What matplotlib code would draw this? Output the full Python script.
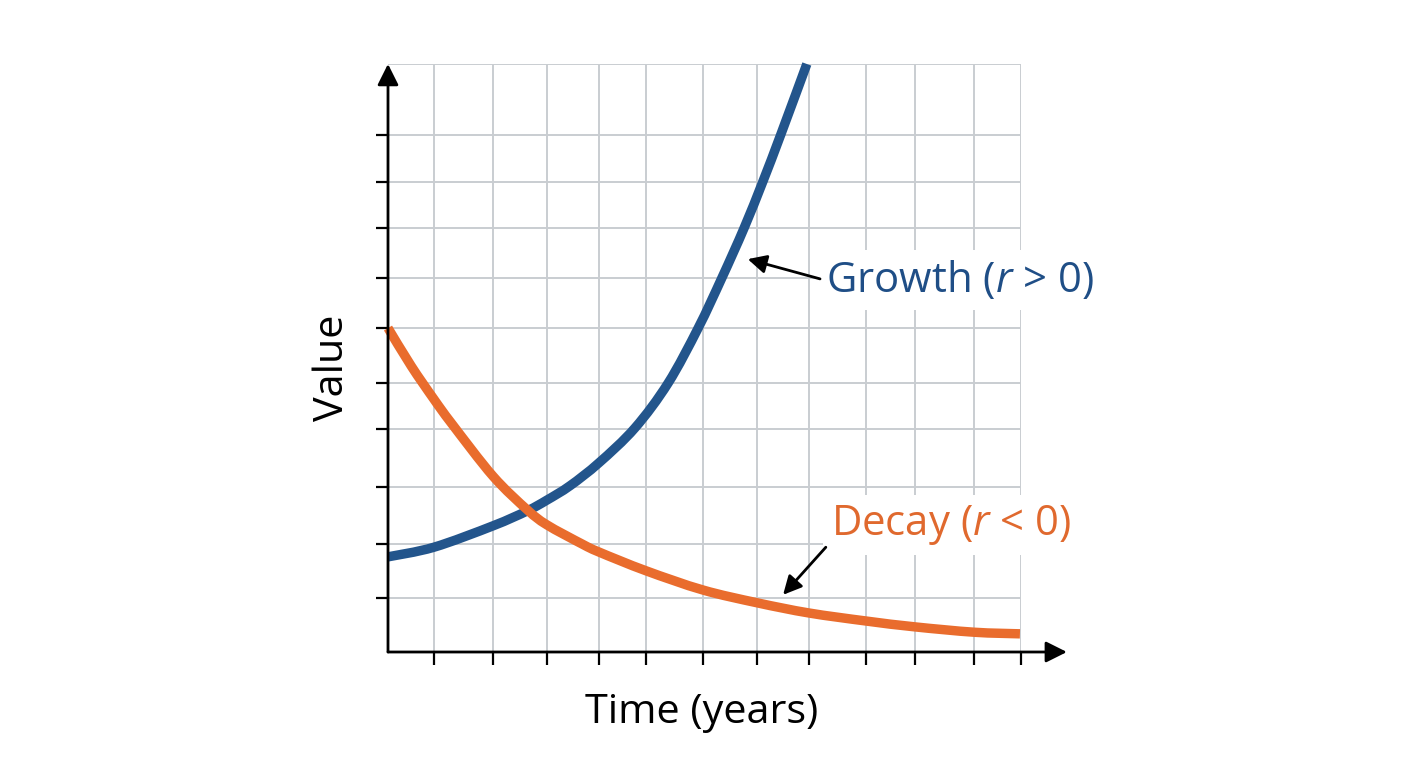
import matplotlib
matplotlib.use("Agg")
import matplotlib.pyplot as plt
from matplotlib.path import Path
from matplotlib.patches import PathPatch

plt.rcParams['font.family'] = ['Open Sans', 'DejaVu Sans']
plt.rcParams['mathtext.fontset'] = 'custom'
plt.rcParams['mathtext.rm'] = 'Open Sans'
plt.rcParams['mathtext.it'] = 'Open Sans:italic'

# Grid / tick positions (irregular spacing)
x_grid = [0.87, 1.99, 3.01, 4.0, 4.89, 5.97, 7.0, 7.98, 9.06, 9.99, 11.11, 12.0]
y_grid = [1.01, 2.02, 3.08, 4.17, 5.03, 6.06, 6.99, 7.93, 8.80, 9.68, 11.0]
y_ticks = y_grid[:-1]

# Growth curve (r > 0)
growth_t = [0.0, 0.87, 1.99, 2.64, 3.01, 3.45, 4.00, 4.68, 5.31, 5.88, 6.33,
            6.75, 7.11, 7.45, 7.94]
growth_v = [1.78, 1.96, 2.36, 2.64, 2.84, 3.11, 3.54, 4.19, 5.03, 6.06, 7.00,
            7.93, 8.81, 9.69, 11.0]

# Decay curve (r < 0)
decay_t = [0.0, 0.44, 0.87, 1.21, 1.99, 2.64, 3.01, 3.68, 4.00, 4.89, 5.97,
           7.00, 7.98, 9.06, 9.99, 11.11, 11.98]
decay_v = [6.06, 5.35, 4.73, 4.27, 3.29, 2.66, 2.38, 2.02, 1.87, 1.52, 1.16,
           0.92, 0.73, 0.58, 0.47, 0.37, 0.34]

blue = "#23558C"
orange = "#E96C2D"


def smooth_path(xs, ys):
    # cubic bezier segments through the read points (Catmull-Rom tangents)
    n = len(xs)
    verts = [(xs[0], ys[0])]
    codes = [Path.MOVETO]
    for i in range(n - 1):
        a = max(i - 1, 0)
        d = min(i + 2, n - 1)
        c1 = (xs[i] + (xs[i + 1] - xs[a]) / 6, ys[i] + (ys[i + 1] - ys[a]) / 6)
        c2 = (xs[i + 1] - (xs[d] - xs[i]) / 6, ys[i + 1] - (ys[d] - ys[i]) / 6)
        verts += [c1, c2, (xs[i + 1], ys[i + 1])]
        codes += [Path.CURVE4] * 3
    return Path(verts, codes)


fig = plt.figure(figsize=(14.08, 7.68), dpi=100)
ax = fig.add_axes([388 / 1408, 1 - 652 / 768, (1021 - 388) / 1408, (652 - 64) / 768])
ax.set_xlim(0, 12)
ax.set_ylim(0, 11)

# grid
ax.vlines(x_grid, 0, 11, color="#c9cdd1", lw=1.4, zorder=1)
ax.hlines(y_grid, 0, 12, color="#c9cdd1", lw=1.4, zorder=1)

# curves
ax.add_patch(PathPatch(smooth_path(growth_t, growth_v), fill=False, edgecolor=blue,
                       lw=6.8, capstyle="butt", zorder=3, clip_on=False))
ax.add_patch(PathPatch(smooth_path(decay_t, decay_v), fill=False, edgecolor=orange,
                       lw=6.8, capstyle="butt", zorder=3, clip_on=False))

# axes with arrows
for s in ax.spines.values():
    s.set_visible(False)
arrow_kw = dict(arrowstyle="-|>", mutation_scale=32, lw=2, color="black",
                shrinkA=0, shrinkB=0)
ax.annotate("", xy=(0, 11.0), xytext=(0, 0), arrowprops=arrow_kw,
            annotation_clip=False, zorder=5)
ax.annotate("", xy=(12.87, 0), xytext=(0, 0), arrowprops=arrow_kw,
            annotation_clip=False, zorder=5)

ax.set_xticks(x_grid)
ax.set_yticks(y_ticks)
ax.set_xticklabels([])
ax.set_yticklabels([])
ax.tick_params(axis="both", direction="out", length=9, width=1.6, color="black")

# labels with pointer arrows
small_arrow = dict(arrowstyle="-|>", mutation_scale=28, lw=2, color="black",
                   shrinkA=0, shrinkB=0)
ax.annotate("", xy=(6.82, 7.35), xytext=(8.19, 6.98), arrowprops=small_arrow, zorder=6)
ax.annotate("", xy=(7.49, 1.07), xytext=(8.30, 1.96), arrowprops=small_arrow, zorder=6)

box = dict(facecolor="white", edgecolor="none", pad=6)
ax.text(8.30, 6.74, r"Growth ($\mathit{r}$ > 0)", color="#1F4E86", fontsize=30.2,
        ha="left", va="baseline", bbox=box, zorder=4)
ax.text(8.40, 2.19, r"Decay ($\mathit{r}$ < 0)", color="#E0692E", fontsize=30.2,
        ha="left", va="baseline", bbox=box, zorder=4)

fig.text(702 / 1408, 1 - 723 / 768, "Time (years)", fontsize=29.8,
         ha="center", va="baseline")
fig.text(333 / 1408, 1 - 368 / 768, "Value", fontsize=29.8, rotation=90,
         ha="center", va="center")

fig.savefig("out.png", dpi=100, facecolor="white")
